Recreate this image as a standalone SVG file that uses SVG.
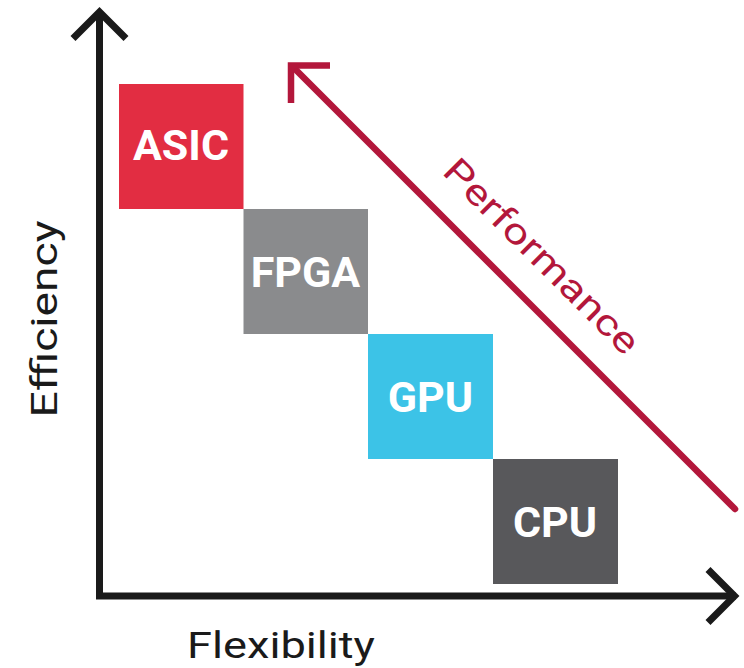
<svg xmlns="http://www.w3.org/2000/svg" width="744" height="668" viewBox="0 0 744 668">
<style>
.box-label{font-family:Roboto,"Liberation Sans",sans-serif;font-weight:bold;font-size:43px;fill:#ffffff;text-anchor:middle}
.axis-label{font-family:Roboto,"Liberation Sans",sans-serif;font-size:36px;fill:#1a1a1a;text-anchor:middle}
.perf-label{font-family:Roboto,"Liberation Sans",sans-serif;font-size:36px;fill:#b3173b;text-anchor:middle}
.axis{fill:none;stroke:#1a1a1a;stroke-width:7;stroke-linejoin:miter}
.perf{fill:none;stroke:#b3173b;stroke-width:6.5}
</style>
<rect width="744" height="668" fill="#ffffff"/>
<g id="connectors">
  <polyline class="axis" points="99.5,12 99.5,596 736,596"/>
  <polyline class="axis" points="73,38.5 99.5,12 126,38.5"/>
  <polyline class="axis" points="708,569.5 734.5,596 708,622.5"/>
  <line class="perf" x1="735" y1="509" x2="293" y2="67" stroke-linecap="round"/>
  <polyline class="perf" points="330,65.5 291,65.5 291,103" stroke-linejoin="miter"/>
</g>
<g id="asic">
  <rect x="119" y="84" width="124.5" height="125" fill="#e22d42"/>
  <text class="box-label" x="181" y="160">ASIC</text>
</g>
<g id="fpga">
  <rect x="243.5" y="209" width="124.5" height="125" fill="#8a8b8d"/>
  <text class="box-label" x="305.5" y="287">FPGA</text>
</g>
<g id="gpu">
  <rect x="368" y="334" width="125" height="125" fill="#3cc3e7"/>
  <text class="box-label" x="430.5" y="412">GPU</text>
</g>
<g id="cpu">
  <rect x="493" y="459" width="125" height="125" fill="#58585b"/>
  <text class="box-label" x="555" y="537">CPU</text>
</g>
<g id="efficiency-label">
  <text class="axis-label" transform="translate(57,319) rotate(-90)" x="0" y="0" textLength="197" lengthAdjust="spacingAndGlyphs">Efficiency</text>
</g>
<g id="flexibility-label">
  <text class="axis-label" x="281" y="658" textLength="188" lengthAdjust="spacingAndGlyphs">Flexibility</text>
</g>
<g id="performance-label">
  <text class="perf-label" transform="translate(533,265) rotate(45)" x="0" y="0" textLength="260" lengthAdjust="spacingAndGlyphs">Performance</text>
</g>
</svg>
